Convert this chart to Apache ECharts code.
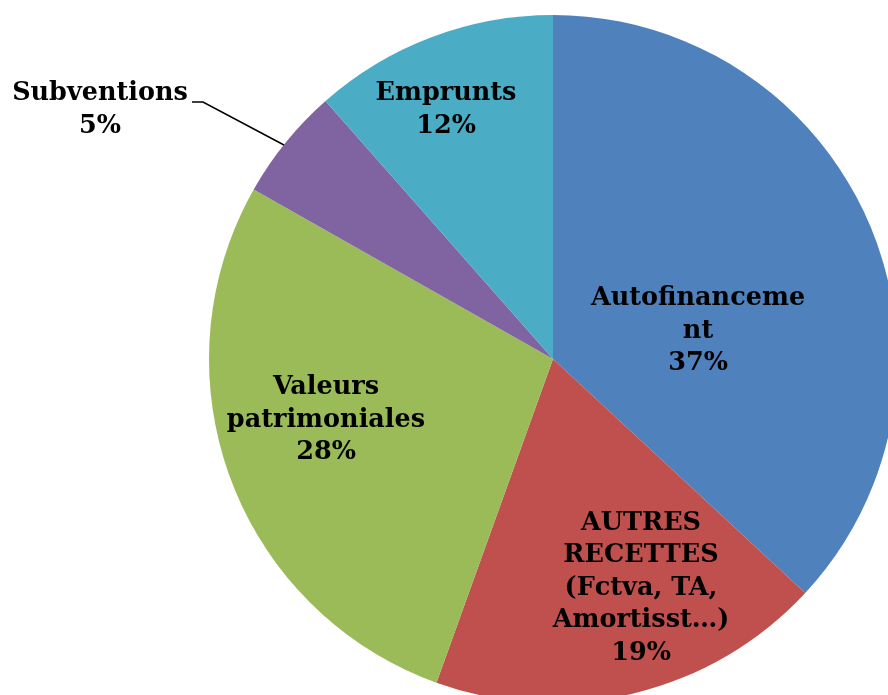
<!DOCTYPE html>
<html>
<head>
<meta charset="utf-8">
<script src="https://cdn.jsdelivr.net/npm/echarts@6/dist/echarts.min.js"></script>
<style>
  html, body { margin: 0; padding: 0; background: #fff; }
  #chart { width: 888px; height: 695px; }
</style>
</head>
<body>
<div id="chart"></div>
<script>
  // categories as they are wrapped in the picture
  const categories = [
    'Autofinanceme\nnt',
    'AUTRES\nRECETTES\n(Fctva, TA,\nAmortisst…)',
    'Valeurs\npatrimoniales',
    'Subventions',
    'Emprunts'
  ];
  // shares in percent
  const values = [36.9, 18.6, 27.7, 5.3, 11.5];
  const colors = ['#4F81BD', '#C0504D', '#9BBB59', '#8064A2', '#4BACC6'];

  // where each label sits in the picture
  const labelSpots = [[698, 331], [641, 588], [326, 420], [100, 110], [446, 110]];

  let myChart = echarts.init(document.getElementById('chart'));
  myChart.setOption({
    animation: false,
    // leader line of the Subventions label
    graphic: [{
      type: 'polyline',
      shape: { points: [[284, 145], [203, 102], [192, 102]] },
      style: { stroke: '#000', lineWidth: 1.5, fill: null },
      z: 10
    }],
    series: [{
      type: 'pie',
      center: [553, 359],
      radius: 344,
      startAngle: 90,
      clockwise: true,
      avoidLabelOverlap: false,
      data: values.map((v, i) => ({
        name: categories[i],
        value: v,
        itemStyle: { color: colors[i] }
      })),
      label: {
        position: 'inside',
        formatter: p => p.name + '\n' + Math.round(p.value) + '%',
        fontFamily: 'DejaVu Serif',
        fontWeight: 'bold',
        fontSize: 25.5,
        lineHeight: 32.5,
        color: '#000',
        align: 'center'
      },
      labelLine: { show: false },
      labelLayout: function (params) {
        const s = labelSpots[params.dataIndex];
        return { x: s[0], y: s[1], align: 'center', verticalAlign: 'middle' };
      }
    }]
  });
</script>
</body>
</html>
